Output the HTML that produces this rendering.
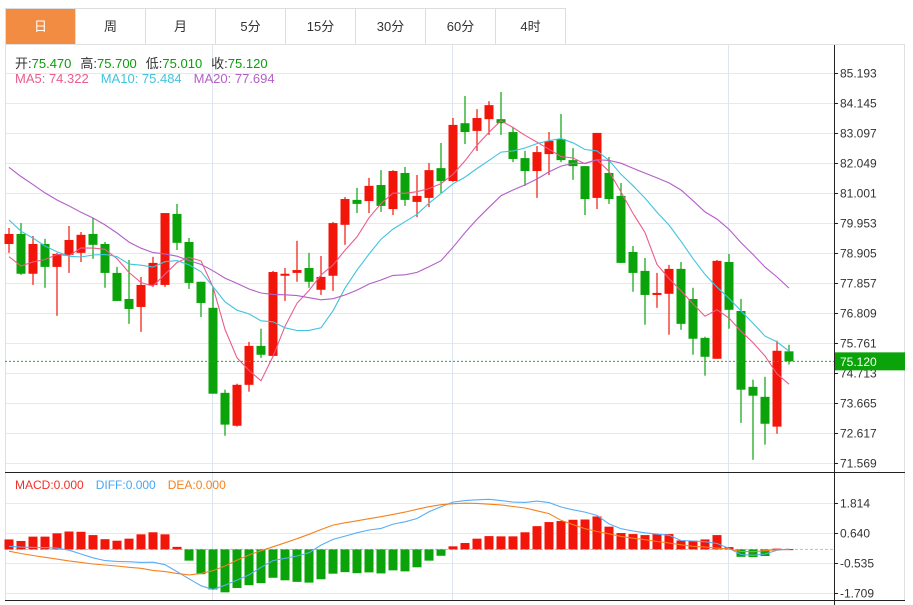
<!DOCTYPE html>
<html><head><meta charset="utf-8">
<style>
html,body{margin:0;padding:0;background:#fff;}
body{width:913px;height:605px;overflow:hidden;position:relative;font-family:"Liberation Sans","Noto Sans CJK SC",sans-serif;}
.tabs{position:absolute;left:5px;top:8px;height:37px;display:flex;border:1px solid #ddd;border-right:none;box-sizing:border-box;}
.tab{width:70px;height:36px;line-height:36px;text-align:center;font-size:13px;color:#333;border-right:1px solid #ddd;box-sizing:border-box;}
.tab.on{background:#f28c42;color:#fff;}
.info{position:absolute;left:15px;font-size:13px;white-space:nowrap;}
.info b{font-weight:normal;color:#0a9d0a;margin-right:9px;}
.info span{color:#333;}
</style></head><body>
<div class="tabs">
<div class="tab on">日</div>
<div class="tab">周</div>
<div class="tab">月</div>
<div class="tab">5分</div>
<div class="tab">15分</div>
<div class="tab">30分</div>
<div class="tab">60分</div>
<div class="tab">4时</div>
</div>
<svg id="chart" width="913" height="605" style="position:absolute;left:0;top:0"></svg>
<div class="info" style="top:53px"><span>开:</span><b>75.470</b><span>高:</span><b>75.700</b><span>低:</span><b>75.010</b><span>收:</span><b>75.120</b></div>
<div class="info" style="top:71px"><span style="color:#ec5c8c;margin-right:12px">MA5: 74.322</span><span style="color:#40c4dc;margin-right:12px">MA10: 75.484</span><span style="color:#b35fc8">MA20: 77.694</span></div>
<div class="info" style="top:478px;font-size:12px"><span style="color:#f0302a;margin-right:12px">MACD:0.000</span><span style="color:#4aa6f0;margin-right:12px">DIFF:0.000</span><span style="color:#f5821f">DEA:0.000</span></div>
<script>
const opens=[79.22,79.57,78.18,79.22,78.42,78.84,78.91,79.57,79.22,78.21,77.30,77.02,77.79,77.79,80.27,79.29,77.90,76.99,74.02,72.87,74.30,75.66,75.31,78.11,78.21,78.38,77.62,78.11,79.89,80.76,80.72,81.28,80.44,81.70,80.69,80.83,81.87,81.42,83.44,83.17,83.58,83.58,83.13,82.22,81.77,82.36,82.89,82.15,81.94,80.83,81.70,80.90,78.94,78.28,77.44,77.48,78.35,77.30,75.94,75.21,78.59,76.88,74.23,73.88,72.84,75.47];
const highs=[79.78,79.95,79.50,79.40,78.91,79.85,79.64,80.13,79.29,78.42,78.66,78.07,78.77,80.30,80.62,79.43,77.90,77.72,74.13,74.34,75.80,76.26,78.28,78.38,79.33,78.91,78.80,79.99,80.86,81.18,81.53,81.80,81.80,81.91,81.63,82.05,82.75,83.62,84.39,83.93,84.21,84.53,83.31,82.47,82.64,83.13,83.76,82.57,81.94,83.10,82.26,81.35,79.15,78.73,78.21,78.49,78.59,77.69,75.98,78.66,78.87,77.30,74.48,74.58,75.84,75.70];
const lows=[78.91,78.14,77.79,77.69,76.71,78.21,78.59,78.70,77.69,77.23,76.43,76.15,77.72,77.72,79.01,77.65,76.67,73.99,72.52,72.84,74.06,75.24,75.28,77.23,77.90,77.69,77.44,77.58,79.19,80.30,80.30,80.34,80.23,80.55,80.16,80.51,81.00,81.39,82.71,82.47,83.03,83.03,82.08,81.25,80.83,81.63,82.08,81.46,80.23,80.44,80.62,78.56,77.55,76.40,76.99,76.05,76.22,75.35,74.62,75.21,76.26,72.97,71.68,72.21,72.59,75.01];
const closes=[79.57,78.18,79.22,78.42,78.87,79.36,79.54,79.19,78.21,77.23,76.95,77.79,78.56,80.30,79.26,77.86,77.16,73.99,72.91,74.30,75.66,75.35,78.24,78.18,78.31,77.90,78.07,79.95,80.79,80.62,81.25,80.55,81.77,80.76,80.90,81.80,81.42,83.38,83.13,83.62,84.07,83.44,82.19,81.77,82.43,82.82,82.15,81.94,80.79,83.10,80.79,78.56,78.21,77.44,77.51,78.35,76.43,75.91,75.28,78.63,76.92,74.13,73.92,72.94,75.49,75.12];
const prevCloses=[84.6,84.9,84.2,83.8,83.5,84.0,83.2,83.0,82.9,83.3,82.1,81.6,81.2,80.9,80.9,79.8,78.5,78.0,78.0];
const macdBars=[0.39,0.33,0.50,0.50,0.63,0.70,0.69,0.56,0.40,0.34,0.42,0.59,0.67,0.59,0.10,-0.44,-0.97,-1.57,-1.68,-1.51,-1.40,-1.32,-1.11,-1.21,-1.27,-1.30,-1.17,-0.95,-0.89,-0.93,-0.90,-0.94,-0.82,-0.86,-0.70,-0.44,-0.25,0.12,0.25,0.42,0.52,0.51,0.51,0.67,0.91,1.07,1.11,1.16,1.17,1.29,0.89,0.64,0.60,0.56,0.60,0.60,0.35,0.34,0.39,0.56,0.09,-0.29,-0.30,-0.26,0.03,0.01];
const diffVals=[0.12,0.09,0.08,0.07,0.05,-0.03,-0.18,-0.33,-0.44,-0.47,-0.48,-0.51,-0.50,-0.60,-0.87,-1.15,-1.42,-1.57,-1.40,-1.20,-1.00,-0.70,-0.44,-0.35,-0.26,-0.13,0.17,0.39,0.52,0.65,0.76,0.82,0.99,1.08,1.21,1.47,1.67,1.85,1.91,1.94,1.96,1.91,1.85,1.84,1.89,1.83,1.66,1.55,1.46,1.33,1.00,0.81,0.72,0.65,0.60,0.55,0.35,0.33,0.30,0.23,0.04,-0.20,-0.23,-0.18,-0.03,0.01];
const deaVals=[-0.07,-0.16,-0.24,-0.31,-0.38,-0.45,-0.51,-0.57,-0.61,-0.65,-0.70,-0.74,-0.82,-0.87,-0.94,-1.00,-0.94,-0.83,-0.65,-0.42,-0.22,-0.05,0.10,0.26,0.42,0.59,0.78,0.95,1.04,1.12,1.20,1.28,1.37,1.46,1.57,1.67,1.75,1.79,1.81,1.80,1.77,1.74,1.68,1.62,1.51,1.40,1.14,0.97,0.81,0.70,0.61,0.51,0.44,0.38,0.31,0.25,0.18,0.12,0.09,0.05,0.01,-0.08,-0.09,-0.05,-0.01,0.00];
const priceTicks=["85.193","84.145","83.097","82.049","81.001","79.953","78.905","77.857","76.809","75.761","74.713","73.665","72.617","71.569"];
const macdTicks=["1.814","0.640","-0.535","-1.709"];

const NS="http://www.w3.org/2000/svg";
const svg=document.getElementById('chart');
function mk(tag,attrs,parent){const e=document.createElementNS(NS,tag);for(const k in attrs)e.setAttribute(k,attrs[k]);(parent||svg).appendChild(e);return e;}
const xAt=i=>9+12*i;
const yP=p=>73+(85.193-p)*30/1.048;
const yM=v=>549.4-v*25.55;
const RED="#f2150a",GREEN="#0aa30a";

// frame & grid
let g=mk('g',{});


priceTicks.forEach(t=>{const y=Math.round(yP(parseFloat(t)))+0.5;mk('line',{x1:5,x2:834,y1:y,y2:y,stroke:'#e3e9ef'},g);});
macdTicks.forEach(t=>{const y=Math.round(yM(parseFloat(t)))+0.5;mk('line',{x1:5,x2:834,y1:y,y2:y,stroke:'#e3e9ef'},g);});
[212.5,452.5,728.5].forEach(x=>{mk('line',{x1:x,x2:x,y1:45,y2:600,stroke:'#dde6ee'},g);});
mk('rect',{x:5.5,y:44.5,width:899,height:556,fill:'none',stroke:'#e0e0e0'},g);
mk('line',{x1:5,x2:905,y1:472.5,y2:472.5,stroke:'#222'},g);
mk('line',{x1:5,x2:905,y1:600.5,y2:600.5,stroke:'#222'},g);
mk('line',{x1:834.5,x2:834.5,y1:45,y2:605,stroke:'#222'},g);

// axis labels
const ax=mk('g',{'font-size':12,fill:'#333','font-family':'Liberation Sans, sans-serif'});


priceTicks.forEach(t=>{const y=Math.round(yP(parseFloat(t)))+0.5;mk('line',{x1:834,x2:838,y1:y,y2:y,stroke:'#222'},ax);const tx=mk('text',{x:840,y:y+4},ax);tx.textContent=t;});
const ax2=mk('g',{'font-size':12,fill:'#333','font-family':'Liberation Sans, sans-serif'});


macdTicks.forEach(t=>{const y=Math.round(yM(parseFloat(t)))+0.5;mk('line',{x1:834,x2:838,y1:y,y2:y,stroke:'#222'},ax2);const tx=mk('text',{x:840,y:y+4},ax2);tx.textContent=t;});

// candles
const cg=mk('g',{});


closes.forEach((c,i)=>{
  const o=opens[i],up=c>=o,col=up?RED:GREEN,x=xAt(i);
  const c1=mk('g',{},cg);
  
  
  mk('line',{x1:x,x2:x,y1:yP(highs[i]),y2:yP(lows[i]),stroke:col,'stroke-width':1.2},c1);
  const t=yP(Math.max(o,c)),b=yP(Math.min(o,c));
  mk('rect',{x:x-4.5,y:t,width:9,height:Math.max(1.5,b-t),fill:col},c1);
});

// MAs
const all=prevCloses.concat(closes);
function ma(n){return closes.map((_,i)=>{const e=i+prevCloses.length;let s=0;for(let k=e-n+1;k<=e;k++)s+=all[k];return s/n;});}
[[5,'#ec5c8c','ma5-line'],[10,'#40c4dc','ma10-line'],[20,'#b35fc8','ma20-line']].forEach(([n,col,nm])=>{
  const v=ma(n);
  const p=mk('polyline',{points:v.map((m,i)=>xAt(i)+','+yP(m).toFixed(1)).join(' '),fill:'none',stroke:col,'stroke-width':1.1});
  
  
});

// last price line + label
const pl=mk('line',{x1:5,x2:834,y1:yP(75.12),y2:yP(75.12),stroke:'#19b019','stroke-dasharray':'2,2'});


const lb=mk('g',{});


mk('rect',{x:835,y:yP(75.12)-9,width:70,height:18,fill:'#0aa30a'},lb);
const lt=mk('text',{x:840,y:yP(75.12)+4.5,fill:'#fff','font-size':12,'font-family':'Liberation Sans, sans-serif'},lb);
lt.textContent='75.120';

// MACD
const zl=mk('line',{x1:5,x2:834,y1:yM(0),y2:yM(0),stroke:'#9cc8e6','stroke-dasharray':'3,2'});


const mg=mk('g',{});


macdBars.forEach((v,i)=>{
  const y0=yM(0),y1=yM(v);
  const r=mk('rect',{x:xAt(i)-4.5,y:Math.min(y0,y1),width:9,height:Math.max(1,Math.abs(y1-y0)),fill:v>=0?RED:GREEN},mg);
  
  
});
[[diffVals,'#5aaef5','diff-line'],[deaVals,'#f5821f','dea-line']].forEach(([arr,col,nm])=>{
  const p=mk('polyline',{points:arr.map((v,i)=>xAt(i)+','+yM(v).toFixed(1)).join(' '),fill:'none',stroke:col,'stroke-width':1.1});
  
  
});
</script>
</body></html>
